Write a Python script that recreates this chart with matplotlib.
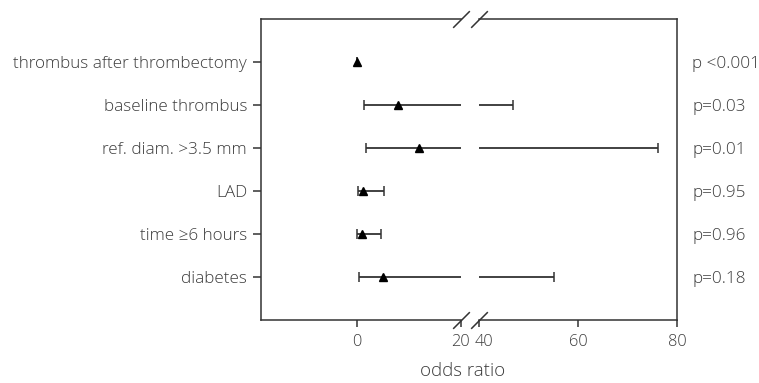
import numpy as np
import matplotlib
matplotlib.use("Agg")
import matplotlib.pyplot as plt
from matplotlib.transforms import ScaledTranslation

# odds ratios with 95% CI, top to bottom
labels = ["thrombus after thrombectomy", "baseline thrombus", "ref. diam. >3.5 mm",
          "LAD", "time \u22656 hours", "diabetes"]
odds = [0.1, 7.9, 12.0, 1.15, 1.0, 5.0]
ci_low = [np.nan, 1.4, 1.9, 0.25, 0.13, 0.44]
ci_high = [np.nan, 46.8, 76.2, 5.25, 4.6, 55.2]
pvals = ["p <0.001", "p=0.03", "p=0.01", "p=0.95", "p=0.96", "p=0.18"]

plt.rcParams['font.family'] = ['Open Sans', 'DejaVu Sans']
plt.rcParams['font.weight'] = 'light'
col = '#333333'
txt = '#3c3c3c'
fs = 12.3

W, H = 759, 383
fig = plt.figure(figsize=(W / 100, H / 100), dpi=100)
bottom = 1 - 320 / H
height = (320 - 19) / H
ax1 = fig.add_axes([261 / W, bottom, (461 - 261) / W, height])
ax2 = fig.add_axes([479 / W, bottom, (677 - 479) / W, height])

ypos = np.arange(len(labels), 0, -1)
odds = np.array(odds)
lo = np.array(ci_low)
hi = np.array(ci_high)
xerr = np.vstack([odds - lo, hi - odds])

for ax in (ax1, ax2):
    ax.errorbar(odds, ypos, xerr=np.nan_to_num(xerr), fmt='^', color='black',
                ecolor=col, elinewidth=1.3, capsize=3.3, capthick=1.1,
                markersize=6, clip_on=True)
    ax.set_ylim(0, len(labels) + 1)
    for s in ax.spines.values():
        s.set_color(col)
        s.set_linewidth(1.1)
    ax.tick_params(axis='x', colors=col, labelcolor=txt, length=5, width=1.1,
                   pad=5, labelsize=11.8)

ax1.set_xlim(-18.3, 20)
ax1.set_xticks([0, 20])
ax1.spines['right'].set_visible(False)
ax1.set_yticks(ypos)
ax1.set_yticklabels(labels)
ax1.tick_params(axis='y', colors=col, labelcolor=txt, length=6, width=1.1,
                pad=4, labelsize=fs)

ax2.set_xlim(40, 80)
ax2.set_xticks([40, 60, 80])
ax2.spines['left'].set_visible(False)
ax2.yaxis.tick_right()
ax2.set_yticks(ypos)
ax2.set_yticklabels(pvals)
ax2.tick_params(axis='y', colors=col, labelcolor=txt, length=0, pad=11,
                labelsize=fs)

# keep "20" and "40" apart at the break
lab20 = ax1.get_xticklabels()[1]
lab20.set_transform(lab20.get_transform() + ScaledTranslation(-1 / 100, 0, fig.dpi_scale_trans))
lab40 = ax2.get_xticklabels()[0]
lab40.set_transform(lab40.get_transform() + ScaledTranslation(5 / 100, 0, fig.dpi_scale_trans))

# break marks
kw = dict(marker=[(-1, -1), (1, 1)], markersize=12, linestyle='none',
          color=col, mec=col, mew=1.1, clip_on=False)
ax1.plot([1, 1], [0, 1], transform=ax1.transAxes, **kw)
ax2.plot([0, 0], [0, 1], transform=ax2.transAxes, **kw)

fig.text(463 / W, 1 - 371 / H, "odds ratio", ha='center', va='center',
         fontsize=13.5, color=txt)

fig.savefig("out.png", dpi=100)
